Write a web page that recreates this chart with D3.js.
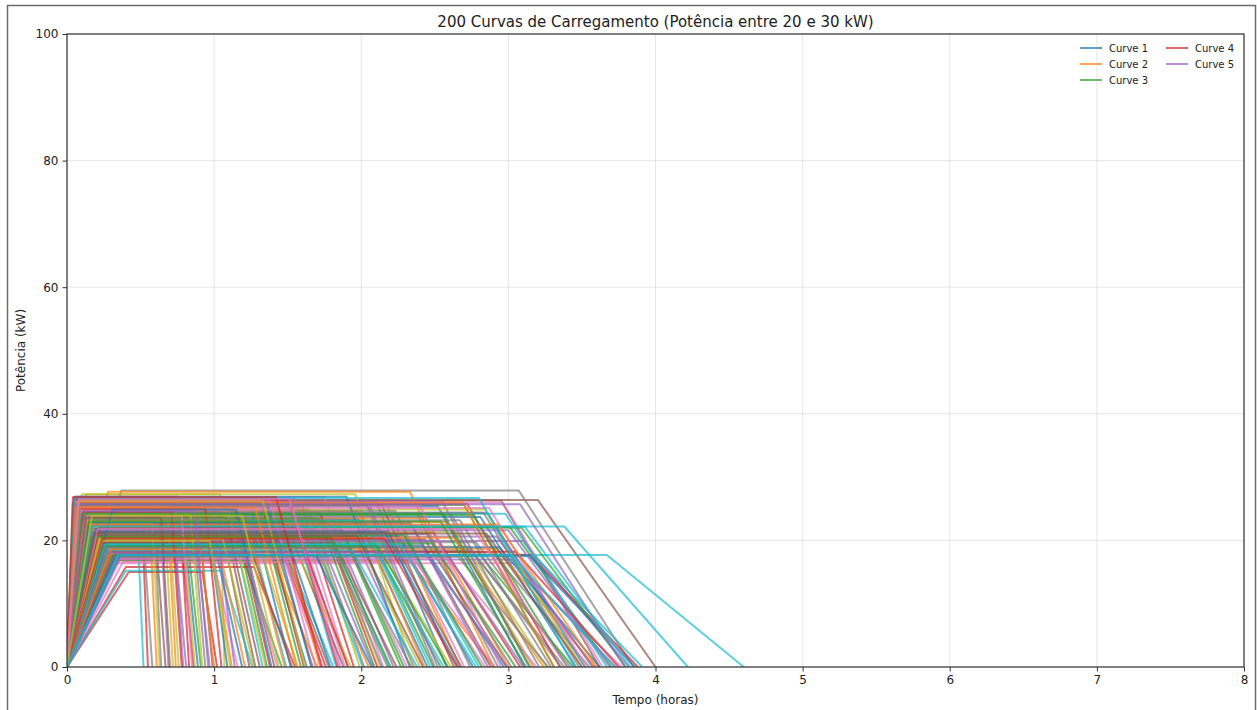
<!DOCTYPE html>
<html>
<head>
<meta charset="utf-8">
<script src="https://cdn.jsdelivr.net/npm/d3@7"></script>
<style>
    body { margin: 0; background: #fff; }
    text { font-family: "DejaVu Sans", sans-serif; fill: #222; }
</style>
</head>
<body>
<svg id="svg-container" width="1257" height="710"></svg>
<script>
// plateau power of each curve (kW)
var power = [
    23.4, 19.8, 25.6, 17.2, 21.9, 26.3, 20.4, 24.1, 27.3, 22.7,
    24.3, 16.8, 25.1, 21.2, 19.3, 26.4, 26.7, 27.9, 24.6, 20.9,
    22.3, 27.7, 18.2, 23.5, 20.1, 23.1, 16.4, 24.9, 27.3, 19.1,
    26.1, 22.9, 17.6, 25.3, 20.6, 24.3, 18.9, 25.2, 21.4, 22.2,
    19.6, 25.7, 22.1, 15.8, 24.4, 20.2, 26.5, 18.4, 23.3, 21.7,
    25.4, 17.4, 22.5, 26.9, 19.9, 24.7, 21.1, 18.1, 26.0, 17.7,
    20.7, 24.0, 16.9, 25.8, 22.2, 19.4, 26.0, 21.8, 18.8, 24.8,
    23.7, 20.0, 25.9, 17.7, 25.0, 22.6, 19.0, 24.2, 21.3, 26.4,
    18.3, 23.5, 20.5, 25.5, 17.0, 22.8, 26.8, 19.7, 24.5, 21.0,
    25.2, 18.7, 22.4, 15.0, 26.2, 20.3, 23.9, 17.3, 24.9, 15.2,
    19.2, 26.6, 22.0, 24.3, 18.0, 25.6, 20.8, 23.2, 17.8, 24.2,
    21.9, 24.6, 19.5, 26.1, 22.9, 18.5, 25.1, 20.1, 23.4, 17.5,
    26.9, 21.2, 24.0, 19.8, 25.9, 22.3, 17.1, 24.7, 20.6, 23.0,
    18.9, 25.3, 21.7, 26.4, 20.0, 23.7, 16.6, 24.4, 22.1, 19.3,
    25.8, 20.4, 23.5, 18.2, 26.6, 21.4, 24.8, 19.0, 22.6, 23.1,
    17.6, 23.1, 20.9, 25.0, 22.4, 19.6, 26.2, 21.0, 24.1, 18.4,
    22.8, 26.0, 19.1, 24.5, 21.6, 17.9, 25.4, 23.3, 20.2, 26.7,
    21.3, 18.6, 24.2, 22.0, 25.7, 20.7, 23.8, 17.4, 26.3, 19.4,
    24.9, 22.5, 20.5, 26.8, 18.1, 23.6, 21.8, 25.5, 19.9, 22.2,
    17.7, 25.2, 23.0, 20.3, 24.6, 21.1, 26.5, 18.8, 23.9, 17.7
];

// end of the ramp up (h)
var rampUp = [
    0.12, 0.25, 0.08, 0.31, 0.18, 0.06, 0.22, 0.14, 0.13, 0.28,
    0.05, 0.28, 0.19, 0.10, 0.34, 0.25, 0.15, 0.37, 0.24, 0.09,
    0.21, 0.28, 0.29, 0.04, 0.16, 0.26, 0.11, 0.20, 0.10, 0.33,
    0.06, 0.17, 0.30, 0.09, 0.23, 0.13, 0.27, 0.05, 0.19, 0.30,
    0.24, 0.08, 0.14, 0.40, 0.11, 0.21, 0.07, 0.29, 0.12, 0.18,
    0.09, 0.32, 0.16, 0.06, 0.22, 0.10, 0.26, 0.35, 0.05, 0.35,
    0.20, 0.12, 0.33, 0.07, 0.15, 0.27, 0.08, 0.18, 0.30, 0.11,
    0.13, 0.23, 0.04, 0.31, 0.09, 0.17, 0.28, 0.12, 0.21, 0.06,
    0.29, 0.14, 0.24, 0.08, 0.36, 0.16, 0.05, 0.22, 0.11, 0.19,
    0.07, 0.30, 0.15, 0.42, 0.06, 0.25, 0.13, 0.32, 0.10, 0.40,
    0.26, 0.05, 0.18, 0.11, 0.34, 0.08, 0.23, 0.14, 0.30, 0.04,
    0.16, 0.10, 0.27, 0.07, 0.19, 0.29, 0.09, 0.24, 0.13, 0.31,
    0.05, 0.21, 0.12, 0.26, 0.08, 0.17, 0.35, 0.10, 0.22, 0.14,
    0.28, 0.09, 0.20, 0.06, 0.24, 0.15, 0.38, 0.11, 0.18, 0.27,
    0.07, 0.23, 0.13, 0.30, 0.05, 0.19, 0.10, 0.26, 0.16, 0.04,
    0.33, 0.12, 0.21, 0.08, 0.17, 0.27, 0.06, 0.20, 0.14, 0.29,
    0.15, 0.07, 0.25, 0.11, 0.19, 0.32, 0.09, 0.13, 0.23, 0.05,
    0.18, 0.30, 0.10, 0.22, 0.06, 0.20, 0.14, 0.34, 0.08, 0.26,
    0.31, 0.11, 0.17, 0.04, 0.27, 0.13, 0.21, 0.09, 0.24, 0.16,
    0.36, 0.06, 0.15, 0.24, 0.12, 0.19, 0.08, 0.28, 0.17, 0.35
];

// end of the constant power stage (h)
var plateauEnd = [
    1.98, 0.98, 2.70, 0.79, 1.69, 2.95, 1.42, 2.38, 1.04, 1.23,
    2.86, 2.33, 1.12, 2.49, 0.88, 3.20, 1.55, 3.07, 0.66, 1.79,
    1.34, 2.33, 2.79, 0.51, 1.96, 1.07, 3.04, 1.64, 1.96, 1.47,
    2.10, 2.58, 0.83, 1.60, 2.92, 1.16, 2.31, 0.59, 2.64, 3.38,
    1.00, 2.17, 3.01, 1.27, 0.72, 2.43, 1.52, 2.75, 1.74, 0.48,
    2.52, 1.39, 2.03, 0.76, 3.10, 1.03, 1.88, 2.89, 1.62, 3.67,
    2.25, 0.56, 1.20, 2.72, 1.81, 1.46, 2.96, 0.86, 2.12, 1.10,
    2.81, 1.67, 1.30, 3.15, 0.63, 2.34, 0.97, 2.61, 1.95, 1.50,
    0.81, 2.44, 2.06, 1.13, 3.03, 1.37, 1.75, 2.78, 0.69, 2.28,
    1.25, 2.92, 1.85, 0.92, 2.55, 1.53, 2.20, 0.53, 2.84, 1.05,
    2.42, 1.41, 3.09, 1.72, 0.74, 2.14, 1.18, 2.67, 1.57, 2.98,
    0.96, 1.98, 2.48, 1.32, 2.33, 0.61, 2.87, 1.78, 1.11, 3.18,
    1.90, 1.01, 2.76, 1.44, 2.05, 0.90, 2.59, 2.23, 1.29, 1.64,
    2.94, 0.68, 1.87, 1.51, 2.52, 1.08, 2.37, 2.83, 0.79, 2.08,
    1.36, 2.63, 1.71, 3.05, 0.99, 2.18, 1.54, 2.73, 0.58, 2.01,
    3.14, 1.22, 2.29, 0.94, 2.90, 1.82, 1.38, 2.45, 0.84, 1.94,
    1.46, 2.69, 2.11, 0.71, 3.00, 1.26, 2.40, 1.74, 1.06, 2.80,
    2.16, 0.91, 2.56, 1.56, 3.08, 1.97, 0.78, 2.66, 1.33, 2.26,
    1.15, 2.93, 1.79, 1.42, 2.43, 0.64, 2.76, 2.04, 0.97, 3.11,
    1.69, 1.28, 2.54, 2.16, 0.87, 2.85, 1.51, 1.91, 1.19, 3.02
];

// time when power is back to zero (h)
var chargeEnd = [
    2.45, 1.12, 3.31, 0.86, 2.08, 3.62, 1.74, 2.93, 1.07, 1.49,
    3.52, 2.90, 1.36, 3.08, 0.97, 4.00, 1.91, 3.85, 0.72, 2.19,
    1.63, 2.90, 3.44, 0.55, 2.36, 1.28, 3.77, 2.02, 2.35, 1.81,
    2.58, 3.17, 0.91, 1.95, 3.58, 1.41, 2.84, 0.64, 3.26, 4.22,
    1.19, 2.67, 3.70, 1.55, 0.79, 2.99, 1.86, 3.38, 2.13, 0.52,
    3.11, 1.70, 2.49, 0.83, 3.82, 1.24, 2.31, 3.55, 1.99, 4.60,
    2.76, 0.61, 1.46, 3.35, 2.22, 1.78, 3.64, 0.94, 2.61, 1.33,
    3.46, 2.05, 1.59, 3.88, 0.69, 2.88, 1.16, 3.21, 2.40, 1.83,
    0.89, 3.00, 2.54, 1.38, 3.73, 1.67, 2.15, 3.42, 0.76, 2.80,
    1.52, 3.59, 2.27, 1.02, 3.14, 1.88, 2.70, 0.58, 3.50, 1.26,
    2.97, 1.72, 3.80, 2.11, 0.81, 2.63, 1.43, 3.29, 1.93, 3.67,
    1.09, 2.43, 3.05, 1.61, 2.86, 0.67, 3.53, 2.18, 1.35, 3.91,
    2.33, 1.21, 3.40, 1.76, 2.52, 0.99, 3.19, 2.74, 1.57, 2.01,
    3.62, 0.74, 2.29, 1.84, 3.10, 1.31, 2.91, 3.48, 0.87, 2.56,
    1.66, 3.24, 2.09, 3.75, 1.14, 2.68, 1.89, 3.36, 0.63, 2.47,
    3.86, 1.48, 2.82, 1.05, 3.57, 2.24, 1.69, 3.02, 0.92, 2.38,
    1.79, 3.31, 2.59, 0.78, 3.69, 1.53, 2.95, 2.14, 1.27, 3.45,
    2.66, 1.00, 3.15, 1.91, 3.79, 2.42, 0.85, 3.27, 1.62, 2.78,
    1.39, 3.60, 2.20, 1.73, 2.99, 0.70, 3.40, 2.50, 1.11, 3.83,
    2.07, 1.56, 3.12, 2.65, 0.96, 3.50, 1.85, 2.34, 1.44, 3.72
];

var xTicks = [0, 1, 2, 3, 4, 5, 6, 7, 8];
var yTicks = [0, 20, 40, 60, 80, 100];
var legendLabels = ["Curve 1", "Curve 2", "Curve 3", "Curve 4", "Curve 5"];
var colors = ["#1f77b4", "#ff7f0e", "#2ca02c", "#d62728", "#9467bd",
    "#8c564b", "#e377c2", "#7f7f7f", "#bcbd22", "#17becf"];

var M = { left: 67, right: 1244, top: 34, bottom: 667 };

var svg = d3.select("#svg-container");

// notebook output frame
svg.append("rect")
    .attr("x", 7.5)
    .attr("y", 5.5)
    .attr("width", 1248)
    .attr("height", 720)
    .attr("fill", "none")
    .attr("stroke", "#6b6b6b")
    .attr("stroke-width", 1.5);

var x = d3.scaleLinear().domain([0, 8]).range([M.left, M.right]);
var y = d3.scaleLinear().domain([0, 100]).range([M.bottom, M.top]);

// grid
var grid = svg.append("g");
grid.selectAll(".gx").data(xTicks).enter().append("line")
    .attr("x1", function (d) { return x(d); })
    .attr("x2", function (d) { return x(d); })
    .attr("y1", M.top)
    .attr("y2", M.bottom)
    .attr("stroke", "#b0b0b0")
    .attr("stroke-opacity", 0.3)
    .attr("stroke-width", 1);
grid.selectAll(".gy").data(yTicks).enter().append("line")
    .attr("x1", M.left)
    .attr("x2", M.right)
    .attr("y1", function (d) { return y(d); })
    .attr("y2", function (d) { return y(d); })
    .attr("stroke", "#b0b0b0")
    .attr("stroke-opacity", 0.3)
    .attr("stroke-width", 1);

svg.append("clipPath").attr("id", "plot-clip")
    .append("rect")
    .attr("x", M.left)
    .attr("y", M.top)
    .attr("width", M.right - M.left)
    .attr("height", M.bottom - M.top);

var curves = power.map(function (p, i) {
    return [[0, 0], [rampUp[i], p], [plateauEnd[i], p], [chargeEnd[i], 0]];
});

var line = d3.line()
    .x(function (d) { return x(d[0]); })
    .y(function (d) { return y(d[1]); });

svg.append("g")
    .attr("clip-path", "url(#plot-clip)")
    .selectAll("path")
    .data(curves)
    .enter().append("path")
    .attr("d", line)
    .attr("fill", "none")
    .attr("stroke", function (d, i) { return colors[i % 10]; })
    .attr("stroke-opacity", 0.7)
    .attr("stroke-width", 2)
    .attr("stroke-linejoin", "round");

// axes
var xAxis = svg.append("g")
    .attr("transform", "translate(0," + M.bottom + ")")
    .call(d3.axisBottom(x).tickValues(xTicks).tickFormat(d3.format("d")).tickSize(4.5).tickPadding(4));
var yAxis = svg.append("g")
    .attr("transform", "translate(" + M.left + ",0)")
    .call(d3.axisLeft(y).tickValues(yTicks).tickFormat(d3.format("d")).tickSize(4.5).tickPadding(4));
[xAxis, yAxis].forEach(function (a) {
    a.select(".domain").remove();
    a.selectAll("line").attr("stroke", "#333").attr("stroke-width", 1);
    a.selectAll("text").attr("font-size", "12px").attr("fill", "#222")
        .attr("font-family", "DejaVu Sans, sans-serif");
});

// spines
svg.append("rect")
    .attr("x", M.left)
    .attr("y", M.top)
    .attr("width", M.right - M.left)
    .attr("height", M.bottom - M.top)
    .attr("fill", "none")
    .attr("stroke", "#333")
    .attr("stroke-width", 1.2);

svg.append("text")
    .attr("x", (M.left + M.right) / 2)
    .attr("y", 27)
    .attr("text-anchor", "middle")
    .attr("font-size", "15px")
    .text("200 Curvas de Carregamento (Potência entre 20 e 30 kW)");

svg.append("text")
    .attr("x", (M.left + M.right) / 2)
    .attr("y", 704)
    .attr("text-anchor", "middle")
    .attr("font-size", "12px")
    .text("Tempo (horas)");

svg.append("text")
    .attr("transform", "translate(25," + ((M.top + M.bottom) / 2) + ") rotate(-90)")
    .attr("text-anchor", "middle")
    .attr("font-size", "12px")
    .text("Potência (kW)");

// legend, two columns
var legend = svg.append("g")
    .selectAll("g")
    .data(legendLabels)
    .enter().append("g")
    .attr("transform", function (d, i) {
        return "translate(" + (1080 + Math.floor(i / 3) * 86) + "," + (48 + (i % 3) * 16) + ")";
    });
legend.append("line")
    .attr("x1", 0)
    .attr("x2", 22)
    .attr("stroke", function (d, i) { return colors[i]; })
    .attr("stroke-opacity", 0.7)
    .attr("stroke-width", 2);
legend.append("text")
    .attr("x", 29)
    .attr("y", 3.5)
    .attr("font-size", "10px")
    .text(function (d) { return d; });
</script>
</body>
</html>
